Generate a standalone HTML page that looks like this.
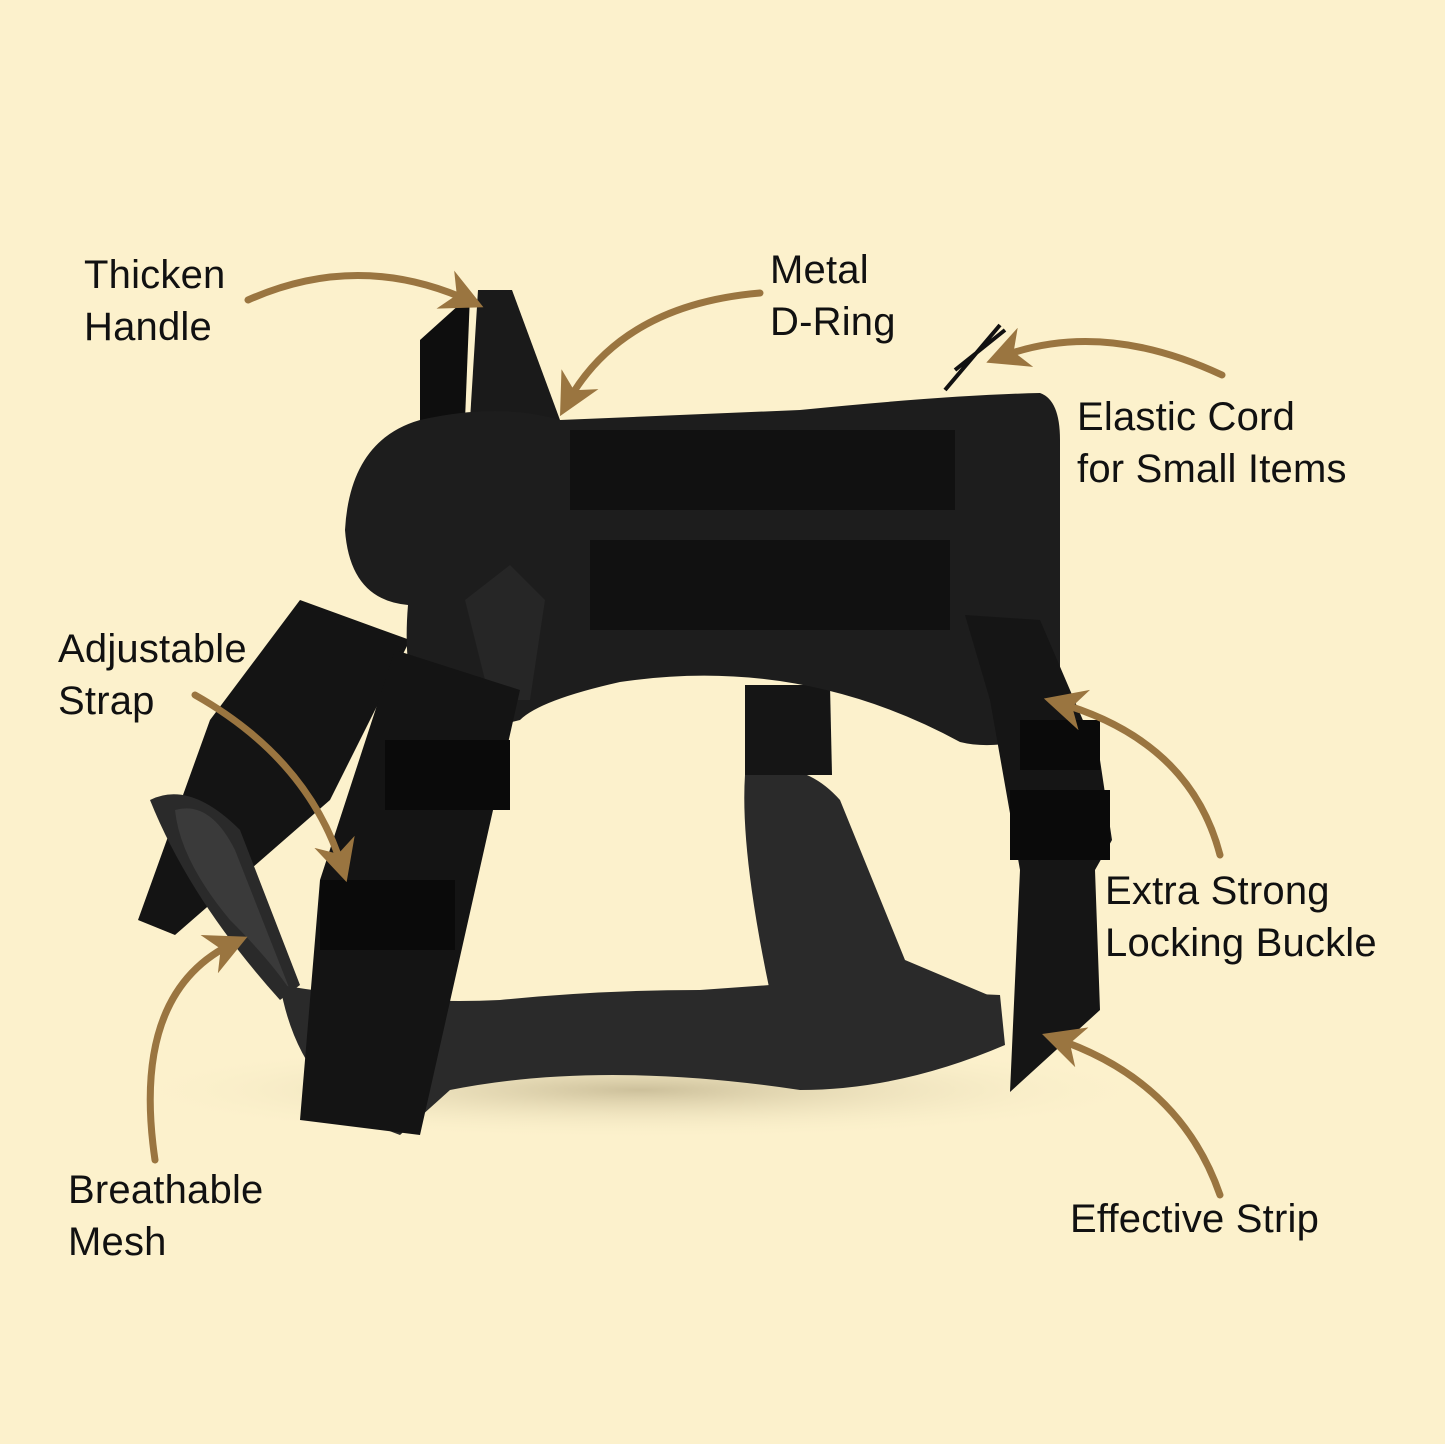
<!DOCTYPE html>
<html><head><meta charset="utf-8"><style>
html,body{margin:0;padding:0;background:#fcf1cc;}
body{width:1445px;height:1444px;position:relative;overflow:hidden;font-family:"Liberation Sans",sans-serif;}
.t{position:absolute;font-size:40px;line-height:52px;color:#111;letter-spacing:0.2px;}
svg{position:absolute;left:0;top:0;}
</style></head><body>
<svg width="1445" height="1444" viewBox="0 0 1445 1444">
<defs>
<marker id="ah" viewBox="0 0 10 10" refX="7" refY="5" markerWidth="6" markerHeight="6" orient="auto-start-reverse">
<path d="M0,0 L10,5 L0,10 L3,5 Z" fill="#9a7540"/></marker>
<radialGradient id="sh" cx="50%" cy="50%" r="50%"><stop offset="0" stop-color="#b8ab86" stop-opacity=".7"/><stop offset="1" stop-color="#fcf1cc" stop-opacity="0"/></radialGradient>
</defs>
<ellipse cx="640" cy="1090" rx="520" ry="50" fill="url(#sh)"/>
<!-- back left strap -->
<polygon points="210,720 300,600 410,640 330,800 175,935 138,920" fill="#141414"/>
<!-- left mesh -->
<path d="M150,800 Q190,780 240,830 L300,985 L280,1000 Q190,900 150,800 Z" fill="#2a2a2a"/>
<path d="M175,810 Q210,800 235,850 L290,990 Q270,960 230,920 Q180,860 175,810 Z" fill="#3a3a3a"/>
<!-- bottom band -->
<path d="M280,985 Q400,1005 500,1000 Q600,990 700,990 L770,985 L1000,995 L1005,1045 Q900,1090 800,1090 Q600,1060 450,1090 L400,1135 Q300,1100 280,985 Z" fill="#2a2a2a"/>
<!-- right pad -->
<path d="M745,775 Q800,755 840,800 L905,960 L1000,1000 L770,992 Q740,850 745,775 Z" fill="#2a2a2a"/>
<!-- center strap -->
<polygon points="745,685 830,685 832,775 745,775" fill="#151515"/>
<!-- handle -->
<polygon points="420,340 470,295 465,420 420,425" fill="#0e0e0e"/>
<polygon points="478,290 512,290 560,420 552,525 482,525 470,420" fill="#1a1a1a"/>
<!-- main body -->
<path d="M420,420 Q500,402 560,420 L800,410 Q950,395 1040,393 Q1060,400 1060,440 L1060,730 Q1000,752 960,742 Q800,655 620,682 Q540,700 520,720 L440,740 Q400,700 408,605 Q350,600 345,530 Q350,440 420,420 Z" fill="#1d1d1d"/>
<rect x="570" y="430" width="385" height="80" fill="#111"/>
<rect x="590" y="540" width="360" height="90" fill="#111"/>
<polygon points="465,600 510,565 545,600 530,700 490,700" fill="#262626"/>
<!-- front strap -->
<polygon points="395,650 520,690 420,1135 300,1120 320,880" fill="#141414"/>
<rect x="320" y="880" width="135" height="70" fill="#0a0a0a"/>
<rect x="385" y="740" width="125" height="70" fill="#0a0a0a"/>
<!-- right straps -->
<polygon points="965,615 1040,620 1100,760 1112,840 1095,870 1100,1010 1010,1092 1020,870 990,700" fill="#151515"/>
<rect x="1010" y="790" width="100" height="70" fill="#0a0a0a"/>
<rect x="1020" y="720" width="80" height="50" fill="#0a0a0a"/>
<!-- elastic cord -->
<path d="M945,390 L1000,325 M955,370 L1005,330" stroke="#111" stroke-width="4"/>
<!-- arrows -->
<g fill="none" stroke="#9a7540" stroke-width="7" stroke-linecap="round" marker-end="url(#ah)">
<path d="M248,300 Q360,250 472,302"/>
<path d="M760,293 Q620,305 566,405"/>
<path d="M1222,375 Q1100,318 998,358"/>
<path d="M195,695 Q310,760 343,870"/>
<path d="M1220,855 Q1190,740 1056,702"/>
<path d="M155,1160 Q130,990 236,942"/>
<path d="M1220,1195 Q1180,1080 1054,1038"/>
</g>
</svg>
<div class="t" style="left:84px;top:249px;">Thicken<br>Handle</div>
<div class="t" style="left:770px;top:244px;">Metal<br>D-Ring</div>
<div class="t" style="left:1077px;top:391px;">Elastic Cord<br>for Small Items</div>
<div class="t" style="left:58px;top:623px;">Adjustable<br>Strap</div>
<div class="t" style="left:1105px;top:865px;">Extra Strong<br>Locking Buckle</div>
<div class="t" style="left:68px;top:1164px;">Breathable<br>Mesh</div>
<div class="t" style="left:1070px;top:1193px;">Effective Strip</div>
</body></html>
